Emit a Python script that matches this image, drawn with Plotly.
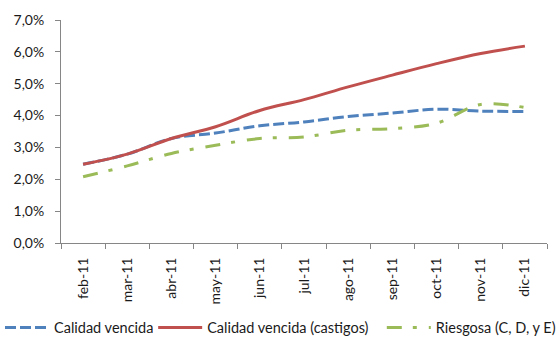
import plotly.graph_objects as go

months = ["feb-11", "mar-11", "abr-11", "may-11", "jun-11", "jul-11",
          "ago-11", "sep-11", "oct-11", "nov-11", "dic-11"]
calidad_vencida = [2.47, 2.79, 3.28, 3.45, 3.68, 3.8, 3.97, 4.08, 4.2, 4.14, 4.13]
calidad_castigos = [2.47, 2.79, 3.28, 3.65, 4.16, 4.5, 4.9, 5.27, 5.63, 5.95, 6.18]
riesgosa = [2.08, 2.42, 2.81, 3.07, 3.28, 3.33, 3.54, 3.59, 3.76, 4.35, 4.25]

fig = go.Figure()
fig.add_trace(go.Scatter(x=months, y=calidad_vencida, name="Calidad vencida", legend="legend",
                         mode="lines", line=dict(color="#4F81BD", width=3, dash="11px,4px", shape="spline")))
fig.add_trace(go.Scatter(x=months, y=calidad_castigos, name="Calidad vencida (castigos)", legend="legend2",
                         mode="lines", line=dict(color="#C0504D", width=3, shape="spline")))
fig.add_trace(go.Scatter(x=months, y=riesgosa, name="Riesgosa (C, D, y E)", legend="legend3",
                         mode="lines", line=dict(color="#9BBB59", width=3, dash="15px,11px,4px,12px", shape="spline")))

fam = "Lato, Open Sans, sans-serif"
leg_common = dict(orientation="h", xref="container", yref="container",
                  xanchor="left", y=0.034, yanchor="middle",
                  font=dict(family=fam, size=14.5, color="#1a1a1a"), itemwidth=44)
fig.update_layout(
    width=559, height=339,
    margin=dict(l=61, r=12, t=20, b=96, autoexpand=False),
    paper_bgcolor="white", plot_bgcolor="white",
    separators=",.",
    font=dict(family=fam, size=14, color="#1a1a1a"),
    showlegend=True,
    legend=dict(x=-0.02, **leg_common),
    legend2=dict(x=0.274, **leg_common),
    legend3=dict(x=0.683, **leg_common),
    xaxis=dict(showline=True, linecolor="#868686", linewidth=1, ticks="outside",
               tickson="boundaries", ticklen=5, tickcolor="#868686", tickangle=-90,
               range=[-0.5, 10.5], ticklabelstandoff=8,
               showgrid=False, zeroline=False),
    yaxis=dict(range=[0, 7], dtick=1, tickformat=".1f", ticksuffix="%",
               showline=True, linecolor="#868686", linewidth=1, ticks="outside",
               ticklen=5, tickcolor="#868686", ticklabelstandoff=8,
               showgrid=False, zeroline=False),
)
fig.write_html("out.html")
